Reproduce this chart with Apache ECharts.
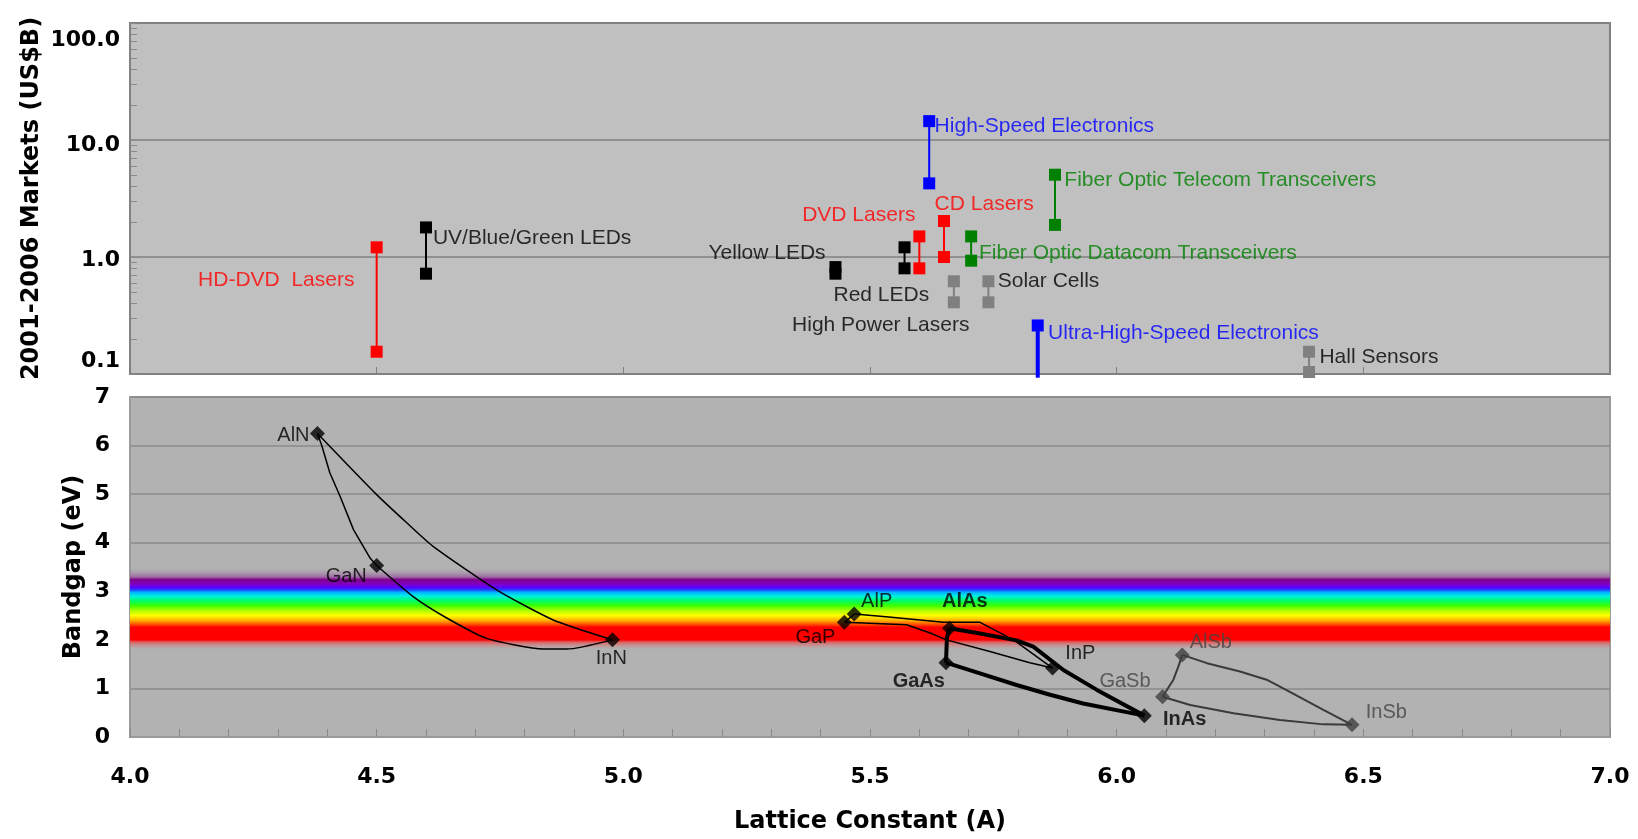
<!DOCTYPE html>
<html lang="en">
<head>
<meta charset="UTF-8">
<title>Lattice constant vs bandgap and markets</title>
<script src="https://cdn.jsdelivr.net/npm/echarts@6/dist/echarts.min.js"></script>
<style>
  html, body { margin: 0; padding: 0; background: #fff; }
  #main { width: 1638px; height: 839px; }
</style>
</head>
<body>
<div id="main"></div>
<script>
// ---- top panel: 2001-2006 markets per application ----
const appNames = ['HD-DVD  Lasers', 'UV/Blue/Green LEDs', 'Yellow LEDs', 'Red LEDs', 'DVD Lasers',
  'High-Speed Electronics', 'CD Lasers', 'High Power Lasers', 'Fiber Optic Datacom Transceivers',
  'Solar Cells', 'Ultra-High-Speed Electronics', 'Fiber Optic Telecom Transceivers', 'Hall Sensors'];
const appLattice = [4.50, 4.60, 5.43, 5.57, 5.60, 5.62, 5.65, 5.67, 5.705, 5.74, 5.84, 5.875, 6.39];
const appMarketLow = [0.155, 0.72, 0.72, 0.80, 0.80, 4.26, 1.0, 0.41, 0.93, 0.41, 0.093, 1.88, 0.104];
const appMarketHigh = [1.21, 1.79, 0.82, 1.21, 1.5, 14.5, 2.03, 0.62, 1.5, 0.62, 0.26, 5.05, 0.155];
const marketTicks = [0.1, 1, 10, 100];

// ---- bottom panel: binary compounds ----
const compounds = ['AlN', 'GaN', 'InN', 'AlP', 'GaP', 'AlAs', 'GaAs', 'InP', 'InAs', 'AlSb', 'GaSb', 'InSb'];
const latticeA = [4.38, 4.50, 4.978, 5.468, 5.448, 5.661, 5.654, 5.870, 6.056, 6.133, 6.093, 6.477];
const bandgapEv = [6.25, 3.53, 2.0, 2.53, 2.36, 2.24, 1.53, 1.42, 0.44, 1.69, 0.83, 0.25];

// alloy curves
const curveAlNGaN = [[4.38, 6.25], [4.389, 5.99], [4.405, 5.44], [4.426, 4.95], [4.453, 4.27], [4.487, 3.68], [4.50, 3.53]];
const curveAlNInN = [[4.38, 6.25], [4.50, 4.99], [4.561, 4.41], [4.615, 3.92], [4.743, 3.03], [4.858, 2.41], [4.978, 2.0]];
const curveGaNInN = [[4.50, 3.53], [4.574, 2.89], [4.642, 2.45], [4.723, 2.03], [4.838, 1.81], [4.885, 1.81], [4.978, 2.0]];
const curveAlPGaP = [[5.468, 2.53], [5.448, 2.36]];
const curveAlPInP = [[5.468, 2.53], [5.527, 2.48], [5.649, 2.36], [5.723, 2.36], [5.791, 2.0], [5.870, 1.42]];
const curveGaPInP = [[5.448, 2.36], [5.574, 2.31], [5.622, 2.14], [5.655, 2.0], [5.743, 1.76], [5.824, 1.53], [5.870, 1.42]];
const curveAlAsGaAs = [[5.661, 2.24], [5.656, 2.05], [5.654, 1.53]];
const curveAlAsInAs = [[5.661, 2.24], [5.723, 2.13], [5.797, 1.99], [5.831, 1.86], [5.892, 1.38], [5.960, 0.97], [6.056, 0.44]];
const curveGaAsInAs = [[5.654, 1.53], [5.723, 1.31], [5.797, 1.07], [5.865, 0.87], [5.932, 0.69], [6.056, 0.44]];
const curveAlSbGaSb = [[6.133, 1.69], [6.125, 1.45], [6.115, 1.18], [6.093, 0.83]];
const curveAlSbInSb = [[6.133, 1.69], [6.183, 1.52], [6.250, 1.35], [6.304, 1.18], [6.351, 0.93], [6.419, 0.56], [6.477, 0.25]];
const curveGaSbInSb = [[6.093, 0.83], [6.149, 0.66], [6.237, 0.49], [6.331, 0.35], [6.419, 0.26], [6.477, 0.25]];

// ---- styling / annotation placement ----
const FONT = '"Liberation Sans", Arial, sans-serif';
const AXIS_FONT = '"DejaVu Sans", sans-serif';
const RED = '#ff0000', BLUE = '#0000ff', GREEN = '#008000', GREY = '#808080';
const appColor = {
  'HD-DVD  Lasers': RED, 'UV/Blue/Green LEDs': '#000', 'Yellow LEDs': '#000', 'Red LEDs': '#000',
  'DVD Lasers': RED, 'High-Speed Electronics': BLUE, 'CD Lasers': RED, 'High Power Lasers': GREY,
  'Fiber Optic Datacom Transceivers': GREEN, 'Solar Cells': GREY, 'Ultra-High-Speed Electronics': BLUE,
  'Fiber Optic Telecom Transceivers': GREEN, 'Hall Sensors': GREY
};
// label anchors: [x, y, align, colour]
const appLabelSpot = {
  'HD-DVD  Lasers': [4.456, 0.626, 'right', RED],
  'UV/Blue/Green LEDs': [4.615, 1.42, 'left', '#000'],
  'Yellow LEDs': [5.411, 1.06, 'right', '#000'],
  'Red LEDs': [5.427, 0.465, 'left', '#000'],
  'High Power Lasers': [5.343, 0.259, 'left', '#000'],
  'DVD Lasers': [5.593, 2.24, 'right', RED],
  'CD Lasers': [5.632, 2.81, 'left', RED],
  'High-Speed Electronics': [5.632, 12.97, 'left', BLUE],
  'Fiber Optic Telecom Transceivers': [5.895, 4.49, 'left', GREEN],
  'Fiber Optic Datacom Transceivers': [5.722, 1.06, 'left', GREEN],
  'Solar Cells': [5.760, 0.618, 'left', '#000'],
  'Ultra-High-Speed Electronics': [5.862, 0.223, 'left', BLUE],
  'Hall Sensors': [6.412, 0.137, 'left', '#000']
};
// compound label anchors: [x, y, align, colour, bold]
const compoundLabelSpot = {
  AlN: [4.365, 6.19, 'right', '#000', false],
  GaN: [4.481, 3.29, 'right', '#000', false],
  InN: [4.945, 1.60, 'left', '#000', false],
  AlP: [5.483, 2.77, 'left', '#000', false],
  GaP: [5.431, 2.04, 'right', '#000', false],
  AlAs: [5.647, 2.77, 'left', '#000', true],
  InP: [5.897, 1.71, 'left', '#000', false],
  GaAs: [5.547, 1.13, 'left', '#000', true],
  GaSb: [5.966, 1.13, 'left', '#444', false],
  InAs: [6.095, 0.35, 'left', '#000', true],
  AlSb: [6.149, 1.94, 'left', '#444', false],
  InSb: [6.506, 0.49, 'left', '#444', false]
};

// log minor tick positions (1..9 per decade)
const logTicks = [];
[0.1, 1, 10].forEach(d => { for (let k = 1; k <= 9; k++) logTicks.push(+(k * d).toPrecision(3)); });
logTicks.push(100);

const chart = echarts.init(document.getElementById('main'));

const series = [];

// rainbow band (visible spectrum) behind the bandgap curves
series.push({
  type: 'line', xAxisIndex: 1, yAxisIndex: 1, data: [[4, 0]], showSymbol: false,
  lineStyle: { opacity: 0 }, z: 1, silent: true,
  markArea: {
    silent: true,
    itemStyle: {
      color: {
        type: 'linear', x: 0, y: 0, x2: 0, y2: 1,
        colorStops: [
          { offset: 0, color: 'rgba(178,178,178,0)' },
          { offset: 0.116, color: 'rgba(150,80,160,0.7)' },
          { offset: 0.151, color: '#80008a' },
          { offset: 0.203, color: '#8000c0' },
          { offset: 0.244, color: '#5a00ff' },
          { offset: 0.273, color: '#2040ff' },
          { offset: 0.302, color: '#00b0ff' },
          { offset: 0.349, color: '#00f0e0' },
          { offset: 0.407, color: '#00ff60' },
          { offset: 0.465, color: '#40ff00' },
          { offset: 0.523, color: '#b0ff00' },
          { offset: 0.581, color: '#ffff00' },
          { offset: 0.640, color: '#ffb000' },
          { offset: 0.686, color: '#ff5000' },
          { offset: 0.721, color: '#ff0000' },
          { offset: 0.872, color: '#ff0000' },
          { offset: 0.901, color: 'rgba(235,70,70,0.75)' },
          { offset: 1, color: 'rgba(178,178,178,0)' }
        ]
      }
    },
    data: [[{ coord: [4, 3.5] }, { coord: [7, 1.78] }]]
  }
});

// top panel ranges
appNames.forEach((name, i) => {
  const c = appColor[name];
  const low = appMarketLow[i];
  series.push({
    type: 'line', xAxisIndex: 0, yAxisIndex: 0, clip: false, z: 3,
    symbol: 'rect', symbolSize: 12,
    lineStyle: { color: c, width: name.startsWith('Ultra') ? 4 : 2 },
    itemStyle: { color: c },
    data: [
      { value: [appLattice[i], low], symbolSize: low < 0.1 ? 0 : 12 },
      [appLattice[i], appMarketHigh[i]]
    ]
  });
});

series.push({
  type: 'scatter', xAxisIndex: 0, yAxisIndex: 0, symbolSize: 1, clip: false, silent: true, z: 5,
  itemStyle: { color: 'rgba(0,0,0,0)' },
  data: appNames.map(n => {
    const s = appLabelSpot[n];
    return {
      value: [s[0], s[1]], name: n,
      label: { show: true, position: [0, 0], align: s[2], verticalAlign: 'middle', formatter: '{b}',
        color: s[3], fontSize: 21, fontFamily: FONT }
    };
  })
});

// bottom panel curves
function curve(data, color, width, smooth) {
  series.push({
    type: 'line', xAxisIndex: 1, yAxisIndex: 1, data: data, showSymbol: false, smooth: smooth || false,
    lineStyle: { color: color, width: width }, z: 3, silent: true
  });
}
curve(curveAlNGaN, '#000', 1.5);
curve(curveAlNInN, '#000', 1.5, 0.2);
curve(curveGaNInN, '#000', 1.5, 0.2);
curve(curveAlPGaP, '#000', 1.5);
curve(curveAlPInP, '#000', 1.5);
curve(curveGaPInP, '#000', 1.5);
curve(curveAlAsGaAs, '#000', 4);
curve(curveAlAsInAs, '#000', 4);
curve(curveGaAsInAs, '#000', 4);
curve(curveAlSbGaSb, '#3a3a3a', 2);
curve(curveAlSbInSb, '#3a3a3a', 2);
curve(curveGaSbInSb, '#3a3a3a', 2);

series.push({
  type: 'scatter', xAxisIndex: 1, yAxisIndex: 1, symbol: 'diamond', symbolSize: 15, z: 4,
  data: compounds.map((c, i) => ({
    value: [latticeA[i], bandgapEv[i]],
    itemStyle: { color: compoundLabelSpot[c][3] === '#444' ? '#404040' : '#000' }
  }))
});

series.push({
  type: 'scatter', xAxisIndex: 1, yAxisIndex: 1, symbolSize: 1, clip: false, silent: true, z: 5,
  itemStyle: { color: 'rgba(0,0,0,0)' },
  data: compounds.map(c => {
    const s = compoundLabelSpot[c];
    return {
      value: [s[0], s[1]], name: c,
      label: { show: true, position: [0, 0], align: s[2], verticalAlign: 'middle', formatter: '{b}',
        color: s[3], fontSize: 20, fontWeight: s[4] ? 'bold' : 'normal', fontFamily: FONT }
    };
  })
});

const titleStyle = { fontSize: 24, fontWeight: 'bold', color: '#000', fontFamily: AXIS_FONT };
const tickStyle = { fontSize: 22, fontWeight: 'bold', color: '#000', fontFamily: AXIS_FONT };

// market labels sit a little inside the panel, as in the picture
const mk = (pad) => Object.assign({ padding: pad }, tickStyle);
const marketRich = { a: mk([34, 0, 0, 0]), b: mk([10, 0, 0, 0]), c: mk([6, 0, 0, 0]), d: mk([0, 0, 26, 0]) };
function marketLabel(v) {
  const t = Number(v).toFixed(1);
  if (v >= 99) return '{a|' + t + '}';
  if (v >= 9) return '{b|' + t + '}';
  if (v >= 0.9) return '{c|' + t + '}';
  return '{d|' + t + '}';
}

const option = {
  animation: false,
  backgroundColor: '#fff',
  grid: [
    { left: 130, right: 28, top: 23, height: 351, show: true, backgroundColor: '#c0c0c0',
      borderColor: '#808080', borderWidth: 2, outerBoundsMode: 'none', containLabel: false },
    { left: 130, right: 28, top: 397, height: 340, show: true, backgroundColor: '#b2b2b2',
      borderColor: '#9a9a9a', borderWidth: 2, outerBoundsMode: 'none', containLabel: false }
  ],
  xAxis: [
    { gridIndex: 0, type: 'value', min: 4, max: 7, interval: 0.5,
      axisLine: { lineStyle: { color: '#808080', width: 2 } },
      axisTick: { inside: true, length: 7, lineStyle: { color: '#808080' } },
      axisLabel: { show: false }, splitLine: { show: false } },
    { gridIndex: 1, type: 'value', min: 4, max: 7, interval: 0.5,
      name: 'Lattice Constant (A)', nameLocation: 'middle', nameGap: 73, nameMoveOverlap: false,
      nameTextStyle: titleStyle,
      axisLine: { lineStyle: { color: '#9a9a9a', width: 2 } },
      axisTick: { inside: true, length: 8, lineStyle: { color: '#8a8a8a' } },
      minorTick: { show: true, splitNumber: 5, length: 8, lineStyle: { color: '#8a8a8a' } },
      axisLabel: Object.assign({ margin: 29, formatter: v => v.toFixed(1) }, tickStyle),
      splitLine: { show: false } }
  ],
  yAxis: [
    { gridIndex: 0, type: 'log', logBase: 10, min: marketTicks[0], max: marketTicks[marketTicks.length - 1],
      name: '2001-2006 Markets (US$B)', nameLocation: 'middle', nameGap: 86, nameMoveOverlap: false,
      nameTextStyle: titleStyle,
      axisLine: { show: true, lineStyle: { color: '#808080', width: 2 } },
      axisTick: { show: false },
      axisLabel: Object.assign({ margin: 10, formatter: marketLabel, rich: marketRich }, tickStyle),
      splitLine: { show: true, lineStyle: { color: '#808080', width: 1.5 } } },
    { gridIndex: 1, type: 'value', min: 0, max: 7, interval: 1,
      name: 'Bandgap (eV)', nameLocation: 'middle', nameGap: 44, nameMoveOverlap: false,
      nameTextStyle: titleStyle,
      axisLine: { show: true, lineStyle: { color: '#9a9a9a', width: 2 } },
      axisTick: { show: false },
      axisLabel: Object.assign({ margin: 20 }, tickStyle),
      splitLine: { show: true, lineStyle: { color: '#8a8a8a', width: 1.5 } } },
    // second log axis on the top panel only for the small log ticks
    { gridIndex: 0, type: 'log', logBase: 10, position: 'left', offset: 0,
      min: marketTicks[0], max: marketTicks[marketTicks.length - 1],
      axisLine: { show: false },
      axisTick: { show: true, inside: true, length: 7, customValues: logTicks, lineStyle: { color: '#8a8a8a' } },
      axisLabel: { show: false }, splitLine: { show: false } }
  ],
  series: series
};

chart.setOption(option);
</script>
</body>
</html>
